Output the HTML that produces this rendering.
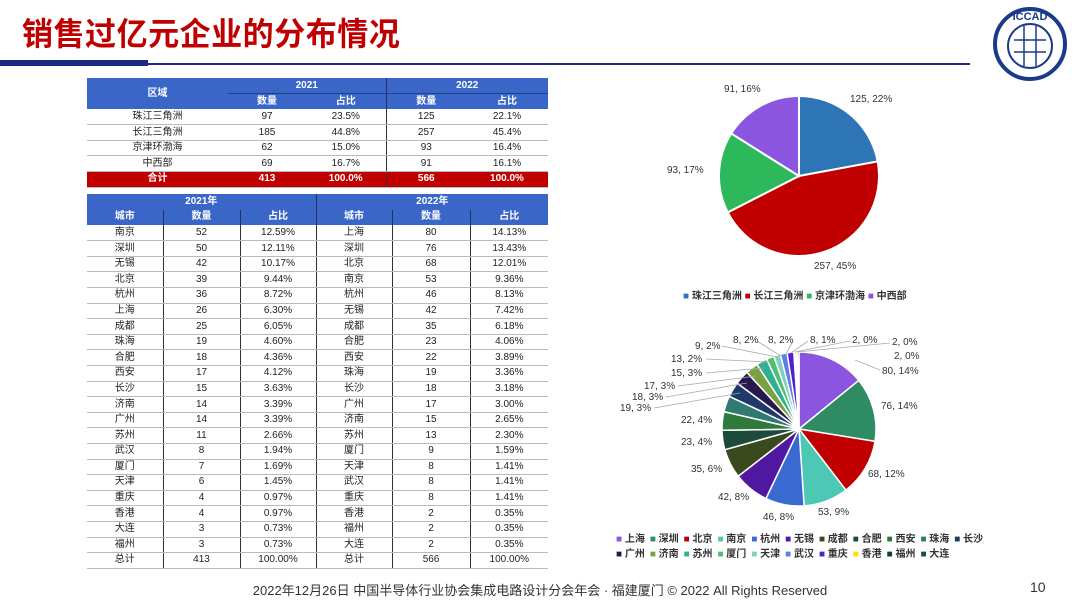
<!DOCTYPE html><html><head><meta charset="utf-8"><style>
*{margin:0;padding:0;box-sizing:border-box}
body{width:1080px;height:607px;background:#fff;position:relative;overflow:hidden;font-family:"Liberation Sans","Noto Sans CJK SC",sans-serif}
.a{position:absolute}
table{position:absolute;border-collapse:collapse;font-size:10px;table-layout:fixed}
td{text-align:center;padding:0;height:15.6px;line-height:14px;color:#222;border-bottom:1px solid #bbb}
tr.h td{background:#3a66c8;color:#fff;font-weight:bold;border-bottom:none}
tr.t td{background:#c00000;color:#fff;font-weight:bold}
.lbl{position:absolute;font-size:10px;color:#333;white-space:nowrap}
</style></head><body>
<div class="a" style="left:22px;top:9px;font-size:32px;font-weight:bold;color:#c00000;letter-spacing:0.5px;font-family:'Noto Sans CJK SC',sans-serif;transform:scaleX(0.97);transform-origin:left">销售过亿元企业的分布情况</div>
<div class="a" style="left:0;top:60px;width:148px;height:6px;background:#1a2a80"></div>
<div class="a" style="left:148px;top:63px;width:822px;height:2px;background:#1a2a80"></div>
<svg class="a" style="left:992px;top:6px" width="76" height="76"><circle cx="38" cy="38" r="35" fill="#fff" stroke="#1a3a8a" stroke-width="4"/><circle cx="38" cy="40" r="22" fill="#fff" stroke="#1a3a8a" stroke-width="2"/><g stroke="#1a3a8a" stroke-width="1.5"><line x1="22" y1="34" x2="54" y2="34"/><line x1="22" y1="46" x2="54" y2="46"/><line x1="32" y1="20" x2="32" y2="60"/><line x1="44" y1="20" x2="44" y2="60"/></g><text x="38" y="14" font-size="11" font-weight="bold" fill="#1a3a8a" text-anchor="middle">ICCAD</text></svg>

<table style="left:87px;top:78px;width:461px">
<colgroup><col style="width:141px"><col style="width:78px"><col style="width:80px"><col style="width:80px"><col style="width:82px"></colgroup>
<tr class="h"><td rowspan="2">区域</td><td colspan="2" style="border-bottom:1px solid #204090">2021</td><td colspan="2" style="border-left:1px solid #203060;border-bottom:1px solid #204090">2022</td></tr>
<tr class="h"><td>数量</td><td>占比</td><td style="border-left:1px solid #203060">数量</td><td>占比</td></tr>
<tr><td>珠江三角洲</td><td>97</td><td>23.5%</td><td style="border-left:1px solid #333">125</td><td>22.1%</td></tr>
<tr><td>长江三角洲</td><td>185</td><td>44.8%</td><td style="border-left:1px solid #333">257</td><td>45.4%</td></tr>
<tr><td>京津环渤海</td><td>62</td><td>15.0%</td><td style="border-left:1px solid #333">93</td><td>16.4%</td></tr>
<tr><td>中西部</td><td>69</td><td>16.7%</td><td style="border-left:1px solid #333">91</td><td>16.1%</td></tr>
<tr class="t"><td>合计</td><td>413</td><td>100.0%</td><td style="border-left:1px solid #333">566</td><td>100.0%</td></tr>
</table>

<table id="t2" style="left:87px;top:194px;width:461px">
<colgroup><col style="width:76px"><col style="width:77px"><col style="width:76px"><col style="width:76px"><col style="width:78px"><col style="width:78px"></colgroup>
<tr class="h"><td colspan="3">2021年</td><td colspan="3" style="border-left:1px solid #203060">2022年</td></tr>
<tr class="h"><td>城市</td><td style="border-left:1px solid #203060">数量</td><td style="border-left:1px solid #203060">占比</td><td style="border-left:1px solid #203060">城市</td><td style="border-left:1px solid #203060">数量</td><td style="border-left:1px solid #203060">占比</td></tr>
</table>

<svg class="a" style="left:0;top:0" width="1080" height="607" id="sv"></svg>

<div class="lbl" style="left:724px;top:84px">91, 16%</div>
<div class="lbl" style="left:850px;top:94px">125, 22%</div>
<div class="lbl" style="left:667px;top:165px">93, 17%</div>
<div class="lbl" style="left:814px;top:261px">257, 45%</div>
<div class="a" style="left:683px;top:287px;font-size:10px;font-weight:bold;color:#333;white-space:nowrap"><span style="color:#2e75b6">■</span> 珠江三角洲 <span style="color:#c00000">■</span> 长江三角洲 <span style="color:#2eb85c">■</span> 京津环渤海 <span style="color:#8b55e0">■</span> 中西部</div>

<div class="lbl" style="left:733px;top:335px">8, 2%</div>
<div class="lbl" style="left:768px;top:335px">8, 2%</div>
<div class="lbl" style="left:810px;top:335px">8, 1%</div>
<div class="lbl" style="left:852px;top:335px">2, 0%</div>
<div class="lbl" style="left:892px;top:337px">2, 0%</div>
<div class="lbl" style="left:894px;top:351px">2, 0%</div>
<div class="lbl" style="left:695px;top:341px">9, 2%</div>
<div class="lbl" style="left:671px;top:354px">13, 2%</div>
<div class="lbl" style="left:671px;top:368px">15, 3%</div>
<div class="lbl" style="left:644px;top:381px">17, 3%</div>
<div class="lbl" style="left:632px;top:392px">18, 3%</div>
<div class="lbl" style="left:620px;top:403px">19, 3%</div>
<div class="lbl" style="left:681px;top:415px">22, 4%</div>
<div class="lbl" style="left:681px;top:437px">23, 4%</div>
<div class="lbl" style="left:691px;top:464px">35, 6%</div>
<div class="lbl" style="left:718px;top:492px">42, 8%</div>
<div class="lbl" style="left:763px;top:512px">46, 8%</div>
<div class="lbl" style="left:818px;top:507px">53, 9%</div>
<div class="lbl" style="left:868px;top:469px">68, 12%</div>
<div class="lbl" style="left:881px;top:401px">76, 14%</div>
<div class="lbl" style="left:882px;top:366px">80, 14%</div>
<div id="lg" class="a" style="left:616px;top:532px;width:380px;font-size:10px;font-weight:bold;color:#333;line-height:15px"></div>

<div class="a" style="left:0;top:580px;width:1080px;text-align:center;font-size:13px;color:#333">2022年12月26日 中国半导体行业协会集成电路设计分会年会 · 福建厦门 © 2022 All Rights Reserved</div>
<div class="a" style="left:1030px;top:579px;font-size:14px;color:#333">10</div>

<script>
var rows=[["南京",52,"12.59%","上海",80,"14.13%"],["深圳",50,"12.11%","深圳",76,"13.43%"],["无锡",42,"10.17%","北京",68,"12.01%"],["北京",39,"9.44%","南京",53,"9.36%"],["杭州",36,"8.72%","杭州",46,"8.13%"],["上海",26,"6.30%","无锡",42,"7.42%"],["成都",25,"6.05%","成都",35,"6.18%"],["珠海",19,"4.60%","合肥",23,"4.06%"],["合肥",18,"4.36%","西安",22,"3.89%"],["西安",17,"4.12%","珠海",19,"3.36%"],["长沙",15,"3.63%","长沙",18,"3.18%"],["济南",14,"3.39%","广州",17,"3.00%"],["广州",14,"3.39%","济南",15,"2.65%"],["苏州",11,"2.66%","苏州",13,"2.30%"],["武汉",8,"1.94%","厦门",9,"1.59%"],["厦门",7,"1.69%","天津",8,"1.41%"],["天津",6,"1.45%","武汉",8,"1.41%"],["重庆",4,"0.97%","重庆",8,"1.41%"],["香港",4,"0.97%","香港",2,"0.35%"],["大连",3,"0.73%","福州",2,"0.35%"],["福州",3,"0.73%","大连",2,"0.35%"],["总计",413,"100.00%","总计",566,"100.00%"]];
var t=document.getElementById("t2"),h="";
rows.forEach(function(r){h+="<tr>"+r.map(function(c,i){return '<td'+(i>0?' style="border-left:1px solid #333"':'')+'>'+c+'</td>'}).join("")+"</tr>"});
t.insertAdjacentHTML("beforeend",h);
var sv=document.getElementById("sv"),s="";
function pie(cx,cy,r,d,cols,sw){var tot=d.reduce(function(a,b){return a+b},0),a=-Math.PI/2;
d.forEach(function(v,i){var b=a+v/tot*2*Math.PI,l=(b-a)>Math.PI?1:0;
s+='<path d="M'+cx+','+cy+'L'+(cx+r*Math.cos(a))+','+(cy+r*Math.sin(a))+'A'+r+','+r+' 0 '+l+' 1 '+(cx+r*Math.cos(b))+','+(cy+r*Math.sin(b))+'Z" fill="'+cols[i]+'" stroke="#fff" stroke-width="'+sw+'"/>';a=b;});}
pie(799,176,80,[125,257,93,91],["#2e75b6","#c00000","#2eb85c","#8b55e0"],2);
var n=["上海","深圳","北京","南京","杭州","无锡","成都","合肥","西安","珠海","长沙","广州","济南","苏州","厦门","天津","武汉","重庆","香港","福州","大连"];
var d=[80,76,68,53,46,42,35,23,22,19,18,17,15,13,9,8,8,8,2,2,2];
var c=["#8b55e0","#2e8b64","#c00000","#4dc8b4","#3a6ad0","#5018a0","#3a4a1e","#1e4a3a","#2e7a3a","#2e7a70","#1e3a6a","#281850","#7aa040","#30b090","#50c070","#80d0c8","#6080e0","#5020d0","#ffe000","#104030","#105050"];
pie(799,429,77,d,c,1.5);
var L=[[722,346,777,357],[706,359,769,362],[706,373,764,368],[678,386,756,376],[666,397,747,383],[654,408,740,393],[757,341,781,356],[793,341,786,354],[808,341,791,353],[850,341,795,352],[890,343,797,352],[880,370,855,360]];
L.forEach(function(p){s+='<line x1="'+p[0]+'" y1="'+p[1]+'" x2="'+p[2]+'" y2="'+p[3]+'" stroke="#aaa" stroke-width="0.8"/>'});
sv.innerHTML=s;
var lg="";n.forEach(function(x,i){lg+='<span style="margin-right:5px"><span style="color:'+c[i]+'">■</span> '+x+'</span>'+(i==10?'<br>':'')});
document.getElementById("lg").innerHTML=lg;
</script>
</body></html>
